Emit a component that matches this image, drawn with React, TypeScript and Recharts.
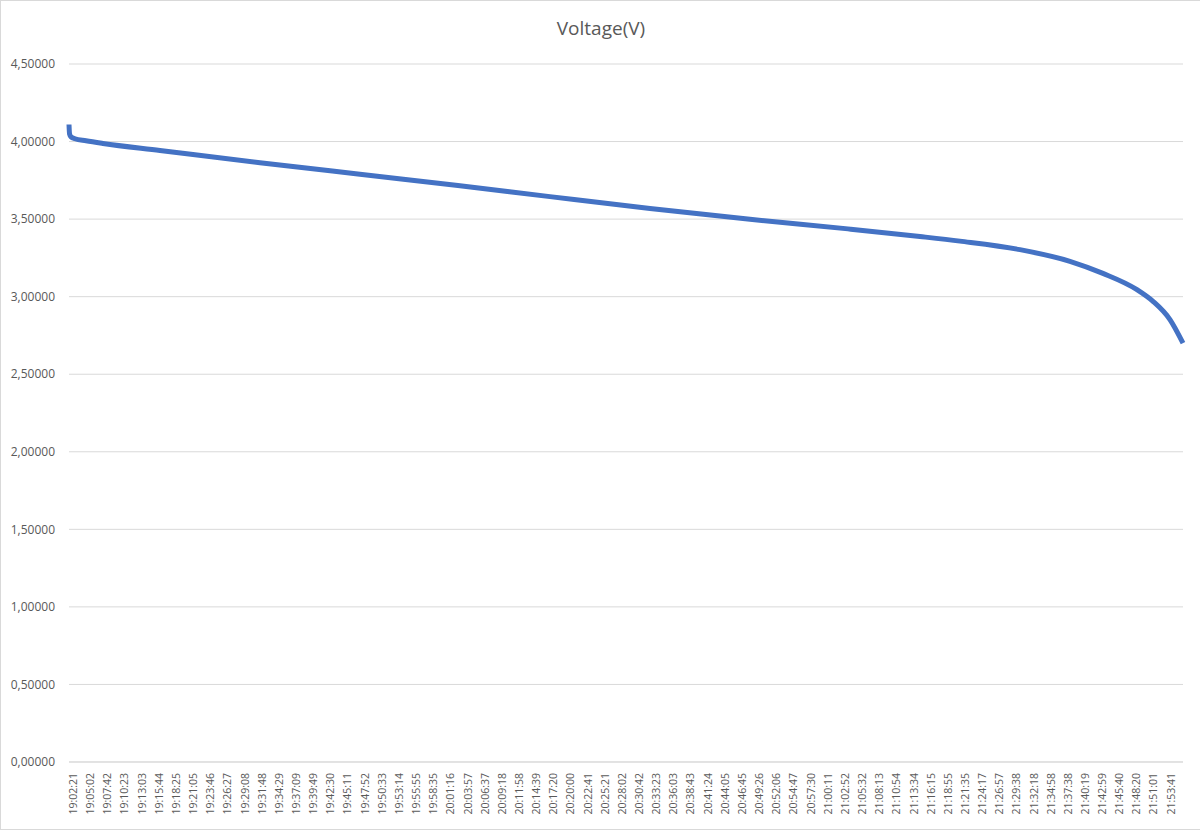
import React from 'react';
import { LineChart, Line, XAxis, YAxis, CartesianGrid } from 'recharts';

// category labels shown on the time axis
const tickLabels = [
  '19:02:21', '19:05:02', '19:07:42', '19:10:23', '19:13:03', '19:15:44', '19:18:25', '19:21:05',
  '19:23:46', '19:26:27', '19:29:08', '19:31:48', '19:34:29', '19:37:09', '19:39:49', '19:42:30',
  '19:45:11', '19:47:52', '19:50:33', '19:53:14', '19:55:55', '19:58:35', '20:01:16', '20:03:57',
  '20:06:37', '20:09:18', '20:11:58', '20:14:39', '20:17:20', '20:20:00', '20:22:41', '20:25:21',
  '20:28:02', '20:30:42', '20:33:23', '20:36:03', '20:38:43', '20:41:24', '20:44:05', '20:46:45',
  '20:49:26', '20:52:06', '20:54:47', '20:57:30', '21:00:11', '21:02:52', '21:05:32', '21:08:13',
  '21:10:54', '21:13:34', '21:16:15', '21:18:55', '21:21:35', '21:24:17', '21:26:57', '21:29:38',
  '21:32:18', '21:34:58', '21:37:38', '21:40:19', '21:42:59', '21:45:40', '21:48:20', '21:51:01',
  '21:53:41',
];

// voltage readings taken off the curve
const sampleTimes = [
  '19:02:21', '19:02:26', '19:02:40', '19:03:17', '19:05:00', '19:07:39', '19:16:33', '19:32:10',
  '19:47:46', '20:03:04', '20:17:26', '20:33:03', '20:48:39', '21:03:57', '21:15:11', '21:21:26',
  '21:30:48', '21:38:36', '21:43:45', '21:49:04', '21:51:34', '21:54:13', '21:56:15',
];
const sampleVolts = [
  4.11, 4.05, 4.03, 4.018, 4.005, 3.988, 3.943, 3.864,
  3.789, 3.716, 3.645, 3.569, 3.499, 3.437, 3.388, 3.358,
  3.303, 3.228, 3.15, 3.045, 2.97, 2.852, 2.7,
];

const yTicks = [0, 0.5, 1, 1.5, 2, 2.5, 3, 3.5, 4, 4.5];

const toSec = (s: string) => {
  const [h, m, x] = s.split(':').map(Number);
  return h * 3600 + m * 60 + x;
};

const labelBySec = new Map(tickLabels.map((l) => [toSec(l), l]));
const xTicks = tickLabels.map(toSec);
const data = sampleTimes.map((t, i) => ({ t: toSec(t), v: sampleVolts[i] }));

const FONT = "'Open Sans', sans-serif";
const GREY = '#595959';

const TimeTick = (props: any) => {
  const { x, y, payload } = props;
  return (
    <text
      transform={`translate(${x + 4},${y + 11}) rotate(-90)`}
      textAnchor="end"
      dominantBaseline="central"
      fontSize={10.5}
      fill={GREY}
      fontFamily={FONT}
    >
      {labelBySec.get(payload.value)}
    </text>
  );
};

export default function App() {
  return (
    <div
      style={{
        position: 'absolute',
        left: 0,
        top: 0,
        width: 1200,
        height: 839,
        background: '#fff',
        overflow: 'hidden',
      }}
    >
      {/* chart area border */}
      <div
        style={{
          position: 'absolute',
          left: 0,
          top: 0,
          width: 1201,
          height: 828,
          border: '1px solid #d9d9d9',
        }}
      />
      <div
        style={{
          position: 'absolute',
          top: 15,
          left: 0,
          width: 1202,
          textAlign: 'center',
          fontFamily: FONT,
          fontSize: 19,
          color: GREY,
        }}
      >
        Voltage(V)
      </div>
      <div style={{ position: 'absolute', left: 0, top: 0 }}>
        <LineChart width={1200} height={839} data={data} margin={{ top: 64, right: 17, bottom: 0, left: 0 }}>
          <CartesianGrid vertical={false} stroke="#d9d9d9" />
          <XAxis
            type="number"
            dataKey="t"
            domain={['dataMin', 'dataMax']}
            ticks={xTicks}
            interval={0}
            tick={<TimeTick />}
            tickLine={false}
            tickSize={0}
            tickMargin={0}
            axisLine={{ stroke: '#d9d9d9' }}
            height={77}
          />
          <YAxis
            domain={[0, 4.5]}
            ticks={yTicks}
            interval={0}
            width={69}
            axisLine={false}
            tickLine={false}
            tickSize={0}
            tickMargin={14}
            tickFormatter={(v: number) => v.toFixed(5).replace('.', ',')}
            tick={{ fontSize: 12, fill: GREY, fontFamily: FONT }}
          />
          <Line
            type="monotone"
            dataKey="v"
            stroke="#4472C4"
            strokeWidth={5}
            dot={false}
            isAnimationActive={false}
          />
        </LineChart>
      </div>
    </div>
  );
}
